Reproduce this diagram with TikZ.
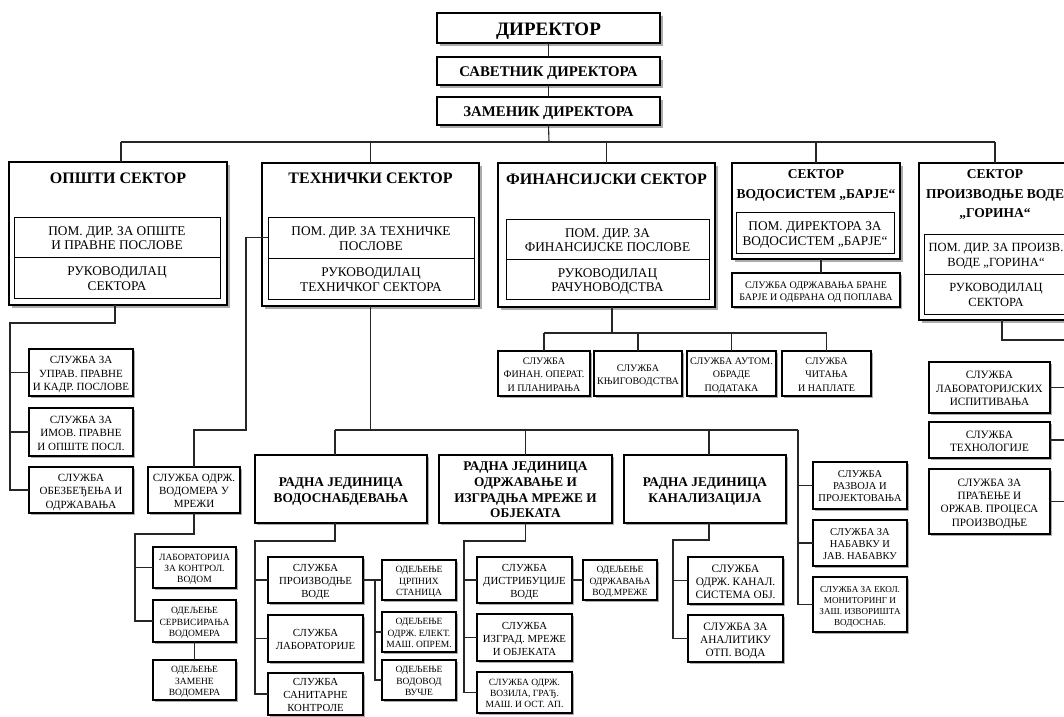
\documentclass[tikz,border=0pt]{standalone}
\usepackage{fontspec}
\setmainfont{Liberation Serif}
\usetikzlibrary{shadows}
% name, x1, y1, x2, y2, box style, font style, text
\newcommand\bx[8]{%
  \node[#6,minimum width={#4-#2},minimum height={#5-#3}] (#1) at ({(#2+#4)/2},{(#3+#5)/2}) {};
  \node[txt,#7] at ({(#2+#4)/2},{(#3+#5)/2+1}) {#8};}
\begin{document}
\begin{tikzpicture}[x=1pt,y=-1pt,
  base/.style={draw,line width=1.1pt,fill=white,inner sep=0pt,outer sep=0pt},
  shbig/.style={drop shadow={shadow xshift=3pt,shadow yshift=-3pt,fill=black!60,opacity=0.55}},
  shsm/.style={drop shadow={shadow xshift=1.6pt,shadow yshift=-1.6pt,fill=black!60,opacity=0.55}},
  big/.style={base,shbig},
  sm/.style={base,shsm},
  inbox/.style={draw,line width=1pt,inner sep=0pt,outer sep=0pt},
  txt/.style={inner sep=0pt,align=center,text depth=0pt},
  conn/.style={line width=1.1pt,draw=black!85},
  fdir/.style={font=\fontsize{19}{22}\selectfont\bfseries},
  fsav/.style={font=\fontsize{14.8}{17}\selectfont\bfseries},
  ftit/.style={txt,font=\fontsize{16}{19.5}\selectfont\bfseries},
  ftis/.style={txt,font=\fontsize{13.5}{19.5}\selectfont\bfseries},
  fin/.style={font=\fontsize{13.3}{14.5}\selectfont},
  fing/.style={font=\fontsize{12.5}{14.5}\selectfont},
  frj/.style={font=\fontsize{13.3}{15.7}\selectfont\bfseries},
  fsv/.style={font=\fontsize{11}{13.5}\selectfont},
  fvod/.style={font=\fontsize{11}{12.8}\selectfont},
  fws/.style={font=\fontsize{10.8}{13}\selectfont},
  fks/.style={font=\fontsize{11.3}{12.8}\selectfont},
  frs/.style={font=\fontsize{10.5}{12}\selectfont},
  fgs/.style={font=\fontsize{11.2}{13.3}\selectfont},
  ffs/.style={font=\fontsize{10}{13.3}\selectfont},
  fod/.style={font=\fontsize{9.5}{11.3}\selectfont},
  feko/.style={font=\fontsize{9.1}{11}\selectfont},
  fbsv/.style={font=\fontsize{10}{12.3}\selectfont}
]
\useasboundingbox (0,0) rectangle (1064,716);
\clip (0,0) rectangle (1064,716);

% top
\bx{dir}{437}{13}{660}{43}{big}{fdir}{ДИРЕКТОР}
\bx{sav}{437}{57}{660}{85}{big}{fsav}{САВЕТНИК ДИРЕКТОРА}
\bx{zam}{437}{97}{660}{125}{big}{fsav}{ЗАМЕНИК ДИРЕКТОРА}

% sectors
\node[big,minimum width=218,minimum height=143] (ops) at (118,233.5) {};
\node[ftit] (opsT) at (118,178) {ОПШТИ СЕКТОР};
\bx{opsA}{14}{217}{220}{257}{inbox}{fin}{ПОМ. ДИР. ЗА ОПШТЕ\\И ПРАВНЕ ПОСЛОВЕ}
\bx{opsB}{14}{257}{220}{298}{inbox}{fin}{РУКОВОДИЛАЦ\\СЕКТОРА}

\node[big,minimum width=217,minimum height=143] (teh) at (370.5,234.5) {};
\node[ftit] (tehT) at (370.5,178) {ТЕХНИЧКИ СЕКТОР};
\bx{tehA}{268}{217}{474}{258}{inbox}{fin}{ПОМ. ДИР. ЗА ТЕХНИЧКЕ\\ПОСЛОВЕ}
\bx{tehB}{268}{258}{474}{299}{inbox}{fin}{РУКОВОДИЛАЦ\\ТЕХНИЧКОГ СЕКТОРА}

\node[big,minimum width=217,minimum height=144] (fin) at (606.5,235) {};
\node[ftit] (finT) at (606.5,179) {ФИНАНСИЈСКИ СЕКТОР};
\bx{finA}{506}{219}{709}{259}{inbox}{fin}{ПОМ. ДИР. ЗА\\ФИНАНСИЈСКЕ ПОСЛОВЕ}
\bx{finB}{506}{259}{709}{299}{inbox}{fin}{РУКОВОДИЛАЦ\\РАЧУНОВОДСТВА}

\node[big,minimum width=168,minimum height=96] (bar) at (816,211) {};
\node[ftis] (barT) at (816,184) {СЕКТОР\\ВОДОСИСТЕМ „БАРЈЕ“};
\bx{barA}{736}{212}{894}{253}{inbox}{fin}{ПОМ. ДИРЕКТОРА ЗА\\ВОДОСИСТЕМ „БАРЈЕ“}
\bx{bsv}{732}{273}{900}{307}{sm}{fbsv}{СЛУЖБА ОДРЖАВАЊА БРАНЕ\\БАРЈЕ И ОДБРАНА ОД ПОПЛАВА}

\node[big,minimum width=154,minimum height=157] (gor) at (996,241.5) {};
\node[ftis] (gorT) at (995,194) {СЕКТОР\\ПРОИЗВОДЊЕ ВОДЕ\\„ГОРИНА“};
\bx{gorA}{924}{234}{1068}{274}{inbox}{fing}{ПОМ. ДИР. ЗА ПРОИЗВ.\\ВОДЕ „ГОРИНА“}
\bx{gorB}{924}{274}{1068}{314}{inbox}{fing}{РУКОВОДИЛАЦ\\СЕКТОРА}

% left services
\bx{ls1}{29}{349}{133}{396}{sm}{fsv}{СЛУЖБА ЗА\\УПРАВ. ПРАВНЕ\\И КАДР. ПОСЛОВЕ}
\bx{ls2}{29}{408}{133}{456}{sm}{fsv}{СЛУЖБА ЗА\\ИМОВ. ПРАВНЕ\\И ОПШТЕ ПОСЛ.}
\bx{ls3}{29}{467}{133}{513}{sm}{fsv}{СЛУЖБА\\ОБЕЗБЕЂЕЊА И\\ОДРЖАВАЊА}

\bx{vod}{148}{467}{240}{513}{sm}{fvod}{СЛУЖБА ОДРЖ.\\ВОДОМЕРА У\\МРЕЖИ}
\bx{vs1}{153}{547}{236}{588}{sm}{fod}{ЛАБОРАТОРИЈА\\ЗА КОНТРОЛ.\\ВОДОМ}
\bx{vs2}{153}{600}{236}{642}{sm}{fod}{ОДЕЉЕЊЕ\\СЕРВИСИРАЊА\\ВОДОМЕРА}
\bx{vs3}{153}{660}{236}{700}{sm}{fod}{ОДЕЉЕЊЕ\\ЗАМЕНЕ\\ВОДОМЕРА}

% financial services
\bx{fs1}{498}{351}{590}{396}{sm}{ffs}{СЛУЖБА\\ФИНАН. ОПЕРАТ.\\И ПЛАНИРАЊА}
\bx{fs2}{594}{351}{682}{396}{sm}{ffs}{СЛУЖБА\\КЊИГОВОДСТВА}
\bx{fs3}{687}{351}{776}{396}{sm}{ffs}{СЛУЖБА АУТОМ.\\ОБРАДЕ\\ПОДАТАКА}
\bx{fs4}{782}{351}{871}{396}{sm}{ffs}{СЛУЖБА\\ЧИТАЊА\\И НАПЛАТЕ}

% working units
\bx{rj1}{255}{455}{427}{523}{sm}{frj}{РАДНА ЈЕДИНИЦА\\ВОДОСНАБДЕВАЊА}
\bx{rj2}{439}{455}{612}{523}{sm}{frj}{РАДНА ЈЕДИНИЦА\\ОДРЖАВАЊЕ И\\ИЗГРАДЊА МРЕЖЕ И\\ОБЈЕКАТА}
\bx{rj3}{624}{455}{786}{523}{sm}{frj}{РАДНА ЈЕДИНИЦА\\КАНАЛИЗАЦИЈА}

\bx{ws1}{268}{557}{363}{603}{sm}{fws}{СЛУЖБА\\ПРОИЗВОДЊЕ\\ВОДЕ}
\bx{ws2}{268}{615}{363}{662}{sm}{fws}{СЛУЖБА\\ЛАБОРАТОРИЈЕ}
\bx{ws3}{268}{673}{363}{715}{sm}{fws}{СЛУЖБА\\САНИТАРНЕ\\КОНТРОЛЕ}
\bx{od1}{382}{560}{456}{600}{sm}{fod}{ОДЕЉЕЊЕ\\ЦРПНИХ\\СТАНИЦА}
\bx{od2}{382}{612}{456}{652}{sm}{fod}{ОДЕЉЕЊЕ\\ОДРЖ. ЕЛЕКТ.\\МАШ. ОПРЕМ.}
\bx{od3}{382}{660}{456}{700}{sm}{fod}{ОДЕЉЕЊЕ\\ВОДОВОД\\ВУЧЈЕ}

\bx{ds1}{477}{557}{572}{603}{sm}{fws}{СЛУЖБА\\ДИСТРИБУЦИЈЕ\\ВОДЕ}
\bx{ds2}{477}{614}{572}{661}{sm}{fws}{СЛУЖБА\\ИЗГРАД. МРЕЖЕ\\И ОБЈЕКАТА}
\bx{ds3}{477}{672}{572}{713}{sm}{fod}{СЛУЖБА ОДРЖ.\\ВОЗИЛА, ГРАЂ.\\МАШ. И ОСТ. АП.}
\bx{dd}{583}{560}{657}{600}{sm}{fod}{ОДЕЉЕЊЕ\\ОДРЖАВАЊА\\ВОД.МРЕЖЕ}

\bx{ks1}{688}{557}{783}{604}{sm}{fks}{СЛУЖБА\\ОДРЖ. КАНАЛ.\\СИСТЕМА ОБЈ.}
\bx{ks2}{688}{615}{783}{662}{sm}{fks}{СЛУЖБА ЗА\\АНАЛИТИКУ\\ОТП. ВОДА}

\bx{rs1}{813}{462}{907}{509}{sm}{frs}{СЛУЖБА\\РАЗВОЈА И\\ПРОЈЕКТОВАЊА}
\bx{rs2}{813}{520}{907}{566}{sm}{frs}{СЛУЖБА ЗА\\НАБАВКУ И\\ЈАВ. НАБАВКУ}
\bx{rs3}{813}{577}{907}{632}{sm}{feko}{СЛУЖБА ЗА ЕКОЛ.\\МОНИТОРИНГ И\\ЗАШ. ИЗВОРИШТА\\ВОДОСНАБ.}

% gorina services
\bx{gs1}{929}{362}{1050}{413}{sm}{fgs}{СЛУЖБА\\ЛАБОРАТОРИЈСКИХ\\ИСПИТИВАЊА}
\bx{gs2}{929}{422}{1050}{458}{sm}{fgs}{СЛУЖБА\\ТЕХНОЛОГИЈЕ}
\bx{gs3}{929}{469}{1050}{534}{sm}{fgs}{СЛУЖБА ЗА\\ПРАЋЕЊЕ И\\ОРЖАВ. ПРОЦЕСА\\ПРОИЗВОДЊЕ}

% ---------- connectors ----------
\coordinate (b0) at (549,142);
\coordinate (bL) at (121,142);
\coordinate (bR) at (995,142);
\draw[conn] (dir) -- (sav);
\draw[conn] (sav) -- (zam);
\draw[conn] (zam.south) -- (b0);
\draw[conn] (bL) -- (bR);
\draw[conn] (bL) -- (bL |- ops.north);
\draw[conn] (teh.north |- bL) -- (teh.north);
\draw[conn] (fin.north |- bL) -- (fin.north);
\draw[conn] (bar.north |- bL) -- (bar.north);
\draw[conn] (bR) -- (bR |- gor.north);

% opsti
\coordinate (o1) at (115,323);
\coordinate (o2) at (10,323);
\draw[conn] (o1 |- ops.south) -- (o1) -- (o2) |- (ls3.west);
\draw[conn] (o2 |- ls1.west) -- (ls1.west);
\draw[conn] (o2 |- ls2.west) -- (ls2.west);

% tech left branch
\coordinate (t1) at (246,430);
\draw[conn] (tehA.west) -| (t1) -| (vod.north);
\coordinate (v1) at (135,534);
\draw[conn] (vod.south) |- (v1) |- (vs2.west);
\draw[conn] (v1 |- vs1.west) -- (vs1.west);
\draw[conn] (vs2) -- (vs3);

% tech bottom
\coordinate (r0) at (335,430);
\coordinate (rR) at (798,430);
\coordinate (r3) at (709,430);
\draw[conn] (teh.south) -- (teh.south |- r0);
\draw[conn] (r0) -- (rR);
\draw[conn] (r0) -- (r0 |- rj1.north);
\draw[conn] (rj2.north |- r0) -- (rj2.north);
\draw[conn] (r3) -- (r3 |- rj3.north);
\draw[conn] (rR) |- (rs3.west);
\draw[conn] (rR |- rs1.west) -- (rs1.west);
\draw[conn] (rR |- rs2.west) -- (rs2.west);

% vodosnabdevanje
\coordinate (w0) at (335,541);
\coordinate (w1) at (255,541);
\coordinate (wv) at (375,0);
\draw[conn] (w0 |- rj1.south) -- (w0) -- (w1) |- (ws3.west);
\draw[conn] (w1 |- ws1.west) -- (ws1.west);
\draw[conn] (w1 |- ws2.west) -- (ws2.west);
\draw[conn] (ws1.east) -- (od1.west);
\draw[conn] (od1.west -| wv) |- (od3.west);
\draw[conn] (od2.west -| wv) -- (od2.west);

% odrzavanje
\coordinate (d1) at (464,541);
\draw[conn] (rj2.south) |- (d1) |- (ds3.west);
\draw[conn] (d1 |- ds1.west) -- (ds1.west);
\draw[conn] (d1 |- ds2.west) -- (ds2.west);
\draw[conn] (ds1.east) -- (dd.west);

% kanalizacija
\coordinate (k0) at (709,540);
\coordinate (k1) at (673,540);
\draw[conn] (k0 |- rj3.south) -- (k0) -- (k1) |- (ks2.west);
\draw[conn] (k1 |- ks1.west) -- (ks1.west);

% financial
\coordinate (f0) at (612,333);
\draw[conn] (f0 |- fin.south) -- (f0);
\draw[conn] (fs1.north |- f0) -- (fs4.north |- f0);
\draw[conn] (fs1.north |- f0) -- (fs1.north);
\draw[conn] (fs2.north |- f0) -- (fs2.north);
\draw[conn] (fs3.north |- f0) -- (fs3.north);
\draw[conn] (fs4.north |- f0) -- (fs4.north);

% barje
\coordinate (bb) at (821,0);
\draw[conn] (bb |- bar.south) -- (bb |- bsv.north);

% gorina
\coordinate (g0) at (1002,340);
\coordinate (g1) at (1070,340);
\draw[conn] (g0 |- gor.south) -- (g0) -- (g1) |- (gs3.east);
\draw[conn] (g1 |- gs1.east) -- (gs1.east);
\draw[conn] (g1 |- gs2.east) -- (gs2.east);
\end{tikzpicture}
\end{document}
